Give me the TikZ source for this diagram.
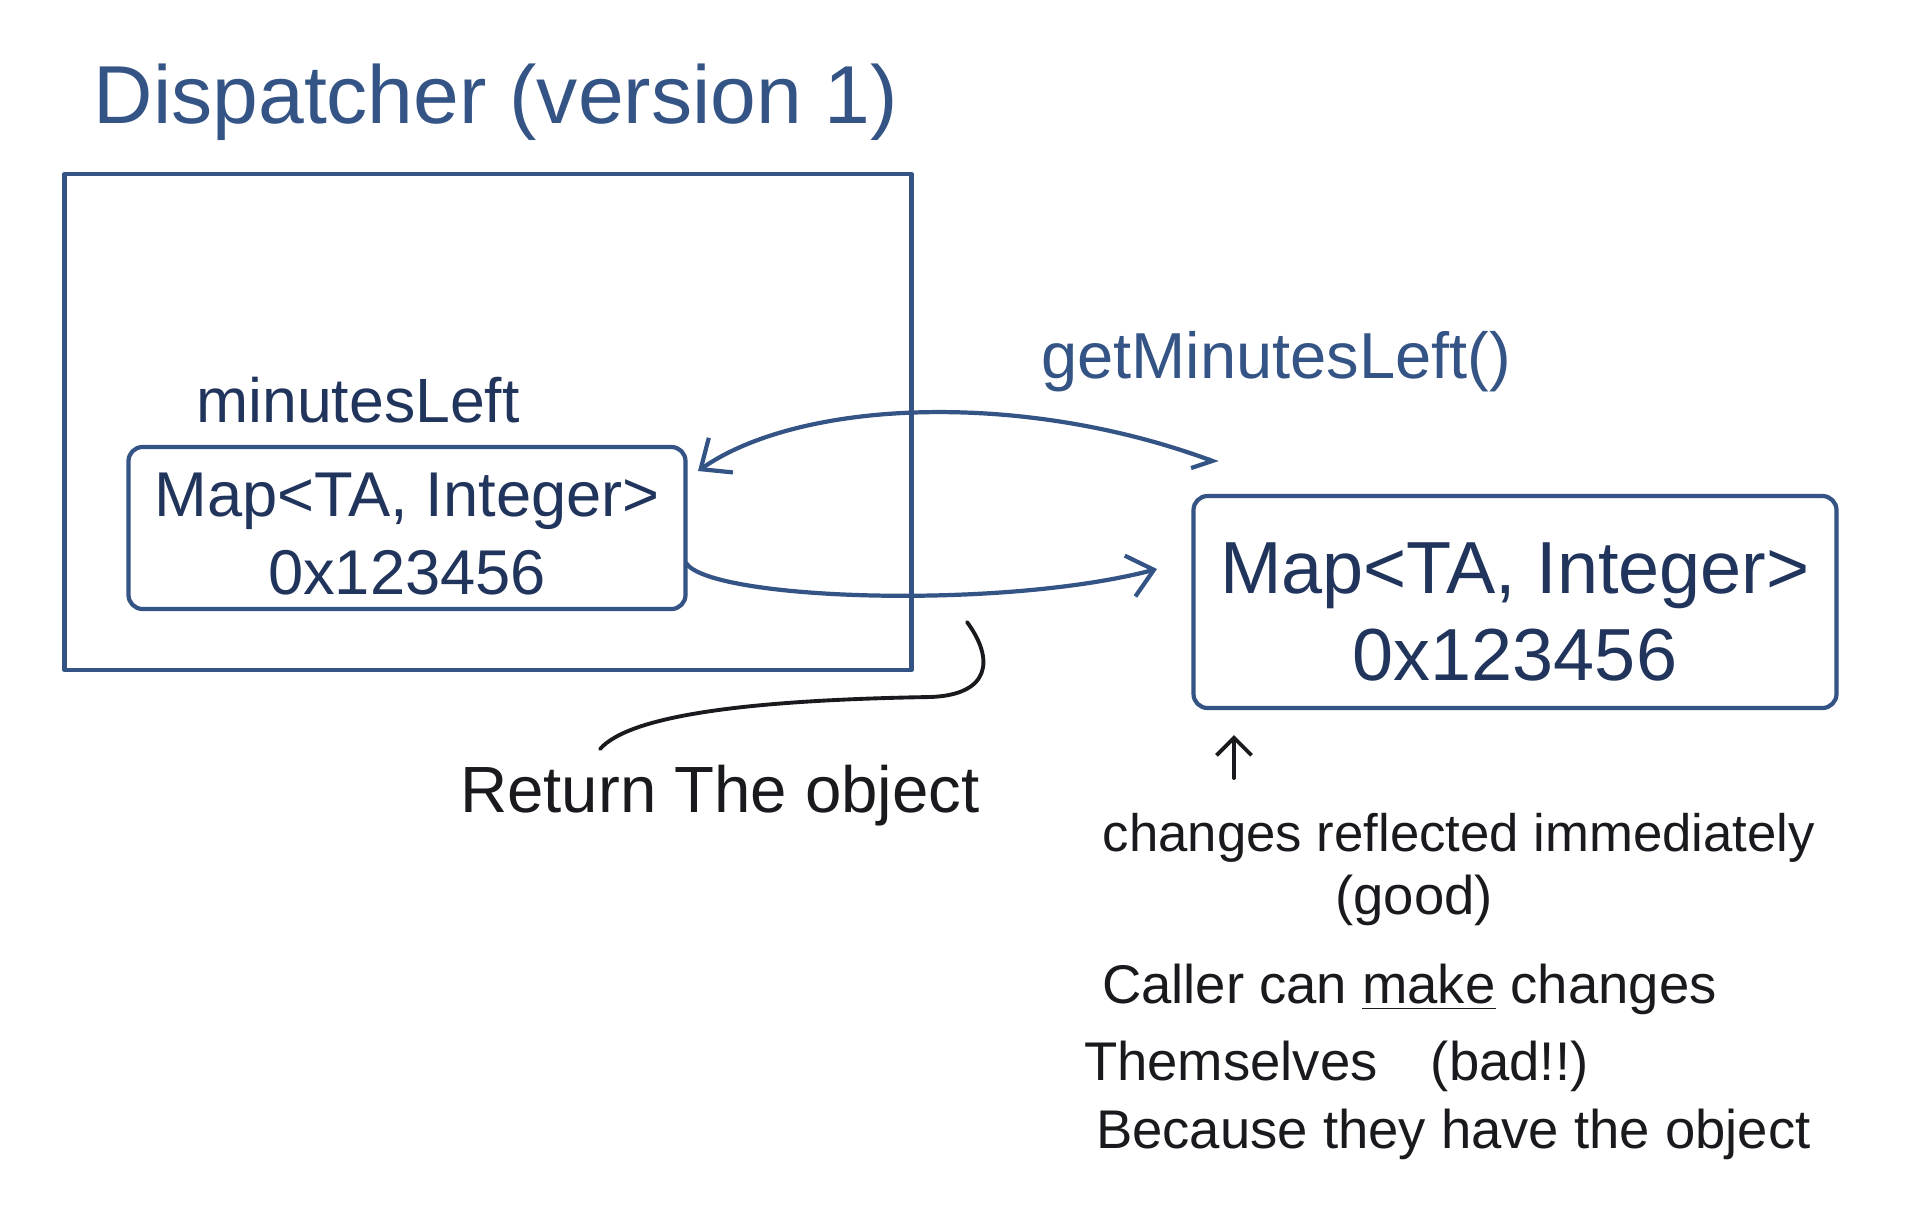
\documentclass[tikz,border=0pt]{standalone}
\usepackage{fontspec}
\setmainfont{Liberation Sans}
\usetikzlibrary{arrows.meta}

\definecolor{inkblue}{RGB}{52,84,134}
\definecolor{inknavy}{RGB}{32,52,92}
\definecolor{inkblack}{RGB}{26,26,30}

\begin{document}
\begin{tikzpicture}
        [every node/.style={inner sep=0pt, outer sep=0pt},
         ink/.style={draw=inkblue, line width=1.2pt, line cap=round, line join=round},
         membox/.style={ink, rounded corners=4pt, align=center, text=inknavy},
         jot/.style={text=inkblack, font=\fontsize{15.5}{19}\selectfont}]

        \fill[white] (0,0) rectangle (19.2,-12.2);
        \useasboundingbox (0,0) rectangle (19.2,-12.2);

        % the dispatcher and its field
        \node[text=inkblue, font=\fontsize{23.4}{28}\selectfont] (title) at (4.96,-1.02) {Dispatcher (version 1)};
        \node[ink, minimum width=8.47cm, minimum height=4.96cm] (disp) at (4.88,-4.22) {};
        \node[text=inknavy, font=\fontsize{17.8}{21}\selectfont] (field) at (3.58,-4.0) {minutesLeft};
        \node[ink, rounded corners=4pt, minimum width=5.57cm, minimum height=1.62cm] (mapL) at (4.07,-5.28) {};
        \node[text=inknavy, align=center, font=\fontsize{18}{22}\selectfont] (mapLtxt) at (4.07,-5.34) {Map<TA, Integer>\\0x123456};

        % the caller's copy of the reference
        \node[ink, rounded corners=4pt, minimum width=6.43cm, minimum height=2.12cm] (mapR) at (15.15,-6.02) {};
        \node[text=inknavy, align=center, font=\fontsize{21}{25}\selectfont] (mapRtxt) at (15.15,-6.12) {Map<TA, Integer>\\0x123456};
        \node[text=inkblue, font=\fontsize{18.5}{22}\selectfont] (call) at (12.76,-3.62) {getMinutesLeft()};
        \node[text=inkblack, font=\fontsize{18.6}{22}\selectfont] (ret) at (7.2,-7.96) {Return The object};

        \node[jot, font=\fontsize{15}{18}\selectfont] (good1) at (14.59,-8.38) {changes reflected immediately};
        \node[jot] (good2) at (14.14,-9.0) {(good)};
        \node[jot, anchor=west] (bad1) at (11.02,-9.89) {Caller can \underline{make} changes};
        \node[jot, anchor=west] (bad2) at (10.84,-10.66) {Themselves\hspace{0.7em} (bad!!)};
        \node[jot, anchor=west] (bad3) at (10.96,-11.34) {Because they have the object};

        \coordinate (callR) at (12.18,-4.63);
        \coordinate (callL) at (6.98,-4.71);
        \coordinate (retS) at (6.86,-5.63);
        \coordinate (retE) at (11.57,-5.69);
        \coordinate (brS) at (9.67,-6.22);
        \coordinate (brM) at (9.3,-6.97);
        \coordinate (brE) at (6.0,-7.49);
        \coordinate (upS) at (12.34,-7.78);
        \coordinate (upE) at (12.34,-7.35);

        \draw[ink, {Straight Barb[length=7pt, width=12pt]}-{Straight Barb[harpoon, swap, length=5pt, width=8pt]}]
          (callL) .. controls (8.0,-4.0) and (10.2,-3.9) .. (callR);
        \draw[ink, -{Straight Barb[length=7pt, width=12pt]}]
          (retS) .. controls (7.1,-6.0) and (10.0,-6.1) .. (retE);
        \draw[draw=inkblack, line width=1.1pt, line cap=round]
          (brS) .. controls (9.95,-6.6) and (9.9,-6.95) .. (brM)
          .. controls (7.5,-7.0) and (6.3,-7.15) .. (brE);
        \draw[draw=inkblack, line width=1.1pt, line cap=round, -{Straight Barb[length=5pt, width=10pt]}] (upS) -- (upE);

      \end{tikzpicture}
\end{document}
